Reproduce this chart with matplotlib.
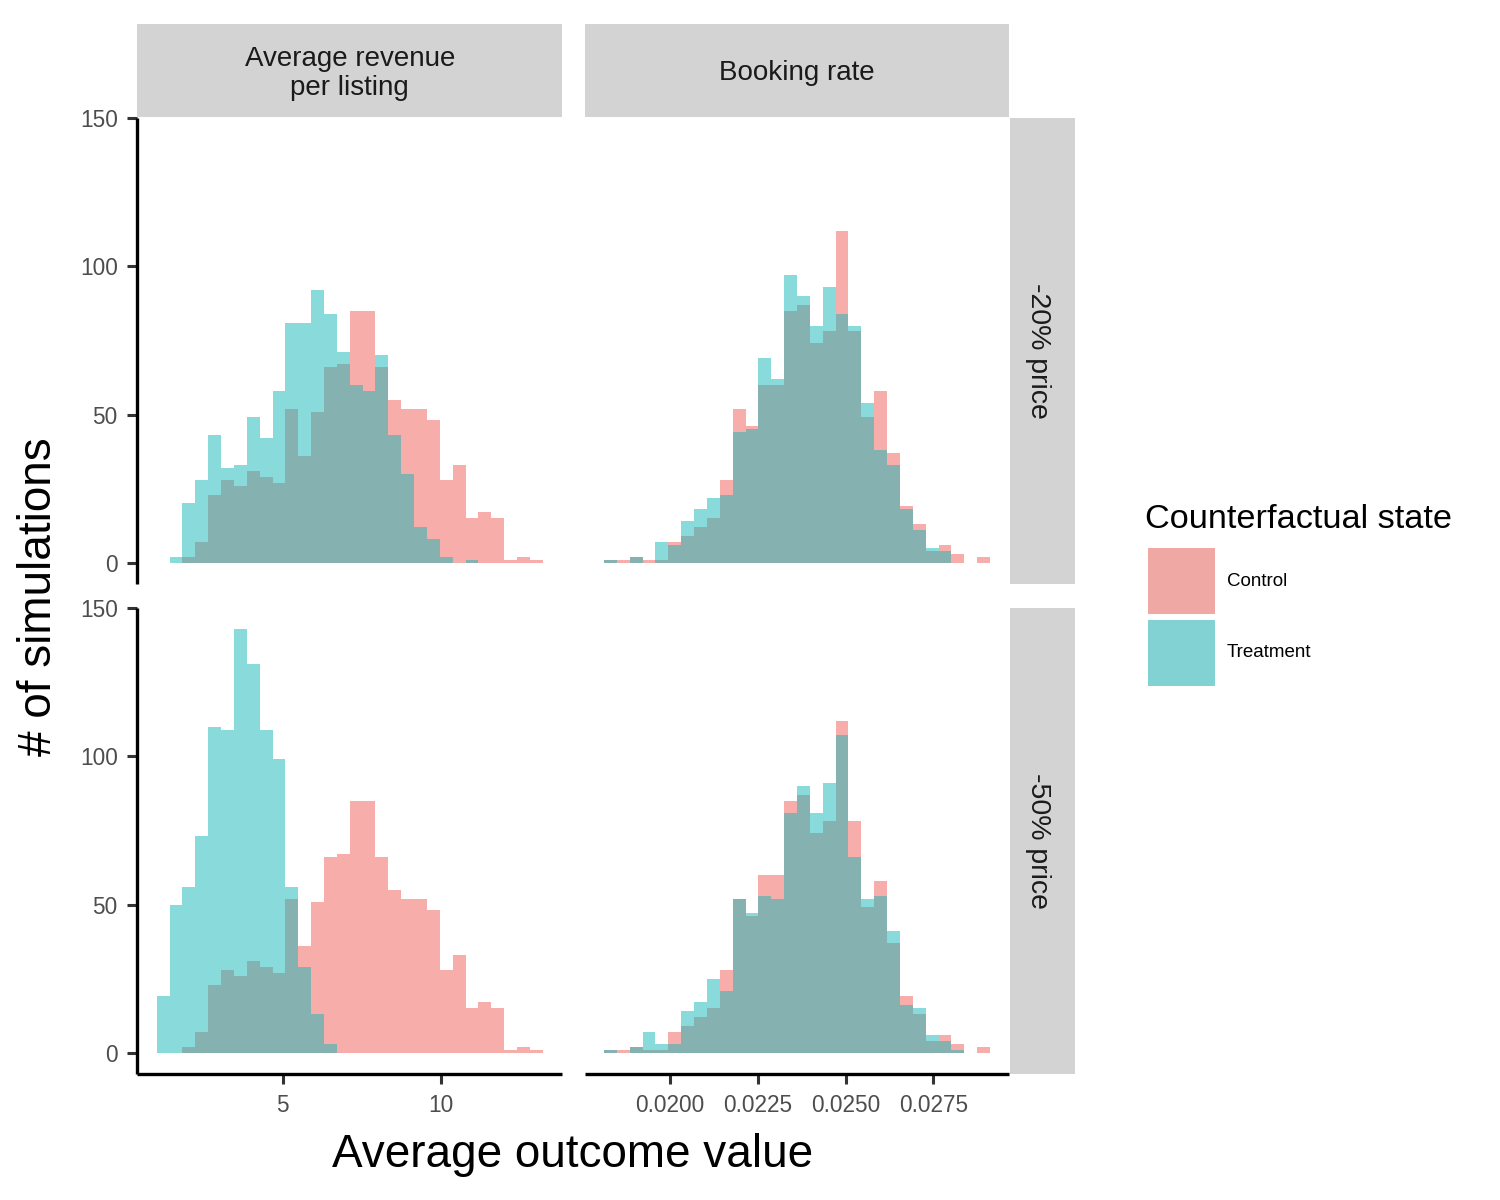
import numpy as np
import matplotlib
matplotlib.use('Agg')
from matplotlib import pyplot as plt
from matplotlib.patches import Patch

plt.rcParams['font.family'] = ['Liberation Sans', 'DejaVu Sans']

# 30 equal bins per column (edges)
revenue_edges = np.linspace(1.013, 13.228, 31)
booking_edges = np.linspace(0.018121, 0.029112, 31)

# counts per bin, 1000 simulations each
control_revenue = [0, 0, 2, 7, 23, 28, 26, 31, 29, 27, 52, 36, 51, 66, 67,
                   85, 85, 66, 55, 52, 52, 48, 28, 33, 15, 17, 15, 1, 2, 1]
treat_revenue_20 = [0, 2, 20, 28, 43, 32, 33, 49, 42, 58, 81, 81, 92, 84, 71,
                    60, 58, 70, 43, 30, 12, 8, 2, 0, 1, 0, 0, 0, 0, 0]
treat_revenue_50 = [19, 50, 56, 73, 110, 109, 143, 131, 109, 99, 56, 29, 13, 3, 0,
                    0, 0, 0, 0, 0, 0, 0, 0, 0, 0, 0, 0, 0, 0, 0]

control_booking = [1, 1, 2, 1, 1, 7, 9, 12, 15, 28, 52, 46, 60, 60, 85,
                   87, 74, 78, 112, 78, 49, 58, 37, 19, 13, 4, 6, 3, 0, 2]
treat_booking_20 = [1, 0, 2, 0, 7, 6, 14, 18, 22, 23, 44, 45, 69, 62, 97,
                    90, 80, 93, 84, 80, 54, 38, 33, 18, 11, 5, 4, 0, 0, 0]
treat_booking_50 = [1, 0, 2, 7, 3, 3, 14, 17, 25, 21, 52, 47, 53, 52, 81,
                    90, 81, 91, 107, 66, 52, 53, 41, 16, 15, 6, 4, 1, 0, 0]

col_titles = ['Average revenue\nper listing', 'Booking rate']
row_titles = ['-20% price', '-50% price']
states = ['Control', 'Treatment']
y_ticks = [0, 50, 100, 150]
revenue_ticks = [5, 10]
booking_ticks = [0.0200, 0.0225, 0.0250, 0.0275]

control_color = '#F15D55'
treat_color = '#15B7B9'
strip_color = '#D3D3D3'

W, H = 1500, 1200
fig = plt.figure(figsize=(W / 100, H / 100), dpi=100)


def rect(x0, y0, x1, y1):
    # pixel box (top-left origin) -> figure fraction
    return [x0 / W, 1 - y1 / H, (x1 - x0) / W, (y1 - y0) / H]


col_px = [(137.4, 562), (584.7, 1009.3)]
row_px = [(117.5, 584), (607.5, 1074)]

panels = [
    [(revenue_edges, control_revenue, treat_revenue_20),
     (booking_edges, control_booking, treat_booking_20)],
    [(revenue_edges, control_revenue, treat_revenue_50),
     (booking_edges, control_booking, treat_booking_50)],
]

ymax = max(max(c) for c in [control_revenue, treat_revenue_20, treat_revenue_50,
                            control_booking, treat_booking_20, treat_booking_50])
ypad = 0.05 * ymax

for r in range(2):
    for c in range(2):
        edges, ctrl, trt = panels[r][c]
        ax = fig.add_axes(rect(col_px[c][0], row_px[r][0], col_px[c][1], row_px[r][1]))
        ax.stairs(ctrl, edges, fill=True, color=control_color, alpha=0.5, linewidth=0)
        ax.stairs(trt, edges, fill=True, color=treat_color, alpha=0.5, linewidth=0)
        span = edges[-1] - edges[0]
        ax.set_xlim(edges[0] - 0.05 * span, edges[-1] + 0.05 * span)
        ax.set_ylim(-ypad, ymax + ypad)
        for s in ['top', 'right']:
            ax.spines[s].set_visible(False)
        for s in ['left', 'bottom']:
            ax.spines[s].set_linewidth(2.4)
            ax.spines[s].set_color('black')
            ax.spines[s].set_capstyle('butt')
        ax.tick_params(length=7.2, width=2.2, color='#333333', labelsize=16.3,
                       labelcolor='#4D4D4D', pad=7)
        ax.set_yticks(y_ticks)
        if c == 0:
            ax.set_xticks(revenue_ticks)
        else:
            ax.set_xticks(booking_ticks)
            ax.set_xticklabels(['%.4f' % t for t in booking_ticks])
        if c != 0:
            ax.spines['left'].set_visible(False)
            ax.tick_params(axis='y', left=False, labelleft=False)
        if r != 1:
            ax.spines['bottom'].set_visible(False)
            ax.tick_params(axis='x', bottom=False, labelbottom=False)

# column strips
for c in range(2):
    sax = fig.add_axes(rect(col_px[c][0], 24, col_px[c][1], 117))
    sax.set_facecolor(strip_color)
    sax.set_xticks([])
    sax.set_yticks([])
    for s in sax.spines.values():
        s.set_visible(False)
    sax.text(0.5, 0.468, col_titles[c], ha='center', va='center', fontsize=20,
             color='#1A1A1A', linespacing=1.17, transform=sax.transAxes)

# row strips
for r in range(2):
    sax = fig.add_axes(rect(1010, row_px[r][0], 1075, row_px[r][1]))
    sax.set_facecolor(strip_color)
    sax.set_xticks([])
    sax.set_yticks([])
    for s in sax.spines.values():
        s.set_visible(False)
    sax.text(0.43, 0.5, row_titles[r], ha='center', va='center', fontsize=20.5,
             color='#1A1A1A', rotation=270, transform=sax.transAxes)

fig.text(573 / W, 1 - 1167 / H, 'Average outcome value', ha='center', va='baseline',
         fontsize=33)
fig.text(39.5 / W, 1 - 597 / H, '# of simulations', ha='center', va='center',
         fontsize=33, rotation=90)

# legend
fig.text(1145 / W, 1 - 528 / H, 'Counterfactual state', ha='left', va='baseline',
         fontsize=24.7)
handles = [Patch(facecolor='#F0A8A5', edgecolor='none'),
           Patch(facecolor='#83D2D3', edgecolor='none')]
fig.legend(handles, states, loc='upper left', bbox_to_anchor=(1148 / W, 1 - 548 / H),
           frameon=False, fontsize=13.5, borderpad=0, borderaxespad=0,
           handlelength=3.57, handleheight=5.036, labelspacing=0.32,
           handletextpad=0.64)

fig.savefig('out.png', dpi=100)
